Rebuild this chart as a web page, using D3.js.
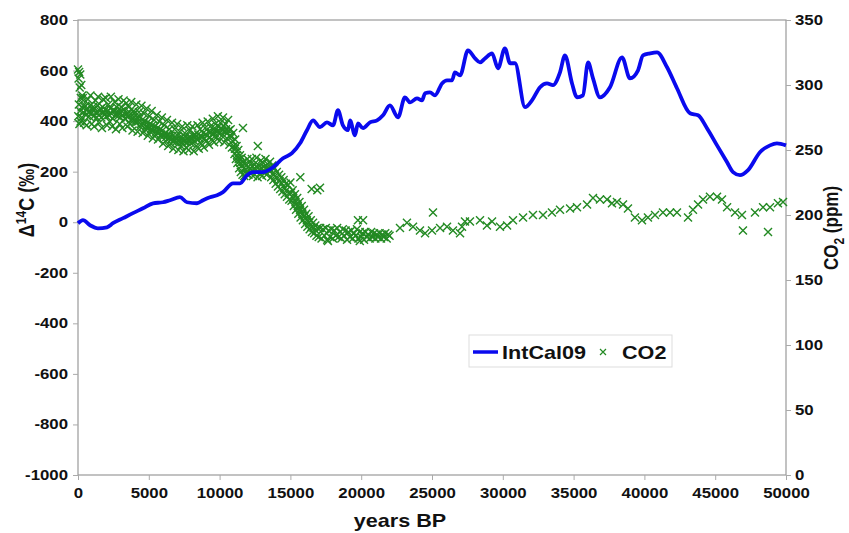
<!DOCTYPE html>
<html>
<head>
<meta charset="utf-8">
<script src="https://cdn.jsdelivr.net/npm/d3@7"></script>
<style>
  body { margin: 0; background: #fff; }
  text { font-family: "Liberation Sans", Arial, sans-serif; font-weight: bold; fill: #111; }
</style>
</head>
<body>
<div id="chart"></div>
<script>
// IntCal09 Delta14C (permil) vs years BP
var intcal = [
  [0,-4],[350,8],[850,-12],[1410,-24],[2050,-20],[2470,-4],[3180,16],[3880,36],[4590,55],[5300,75],
  [6000,79],[6500,87],[7200,99],[7700,79],[8400,75],[8830,87],[9320,99],[9820,107],[10240,119],[10950,154],
  [11440,154],[11940,186],[12360,198],[13060,198],[13770,217],[14480,253],[15110,273],[15680,312],[16170,364],[16600,403],
  [17090,376],[17580,395],[18010,383],[18360,443],[18710,383],[19070,364],[19210,403],[19560,344],[19770,391],[20130,372],
  [20620,395],[21120,403],[21540,423],[22030,462],[22600,415],[23090,494],[23450,474],[23940,490],[24290,482],[24510,510],
  [24860,514],[25210,502],[25710,549],[26060,561],[26410,561],[26620,593],[26980,581],[27540,680],[28040,648],[28390,632],
  [28740,648],[29240,668],[29660,609],[30150,688],[30510,629],[30860,629],[31570,455],[32060,482],[32630,534],[33120,549],
  [33540,542],[34040,593],[34390,660],[34890,549],[35240,494],[35660,502],[36020,632],[36370,569],[36860,494],[37570,534],
  [38420,652],[38980,569],[39550,601],[39900,660],[40400,668],[40890,672],[41600,613],[42300,530],[43220,431],[43790,423],
  [44420,372],[45130,304],[45840,237],[46260,198],[46750,186],[47320,206],[48160,277],[48870,304],[49360,312],[50000,304]
];

// CO2 (ppm) ice-core points, years BP
var co2Recent = [
  [0,312],[20,276],[40,305],[60,285],[80,310],[100,270],[120,298],[140,280],[160,308],[180,272],[200,290],[230,300],[260,275],[280,283],[300,292],
  [340,290],[430,271],[520,284],[610,269],[700,289],[790,276],[880,292],[970,270],[1060,283],[1150,268],[1240,288],[1330,275],[1420,291],[1510,271],
  [1600,282],[1690,267],[1780,289],[1870,277],[1960,290],[2050,269],[2140,285],[2230,272],[2320,291],[2410,268],[2500,281],[2590,287],[2680,266],
  [2770,279],[2860,289],[2950,270],[3040,283],[3130,267],[3220,288],[3310,274],[3400,286],[3490,268],[3580,283],[3670,270],[3760,287],[3850,265],
  [3940,280],[4030,272],[4120,285],[4210,264],[4300,279],[4390,268],[4480,284],[4570,263],[4660,278],[4750,266],[4840,282],[4930,261],[5020,276],
  [5110,264],[5200,280],[5290,259],[5380,273],[5470,262],[5560,277],[5650,258],[5740,272],[5830,261],[5920,275],[6010,255],[6100,269],[6190,257],
  [6280,273],[6370,253],[6460,266],[6550,255],[6640,271],[6730,251],[6820,266],[6910,256],[7000,270],[7090,250],[7180,264],[7270,253],[7360,268],
  [7450,249],[7540,263],[7630,252],[7720,269],[7810,250],[7900,265],[7990,255],[8080,268],[8170,249],[8260,262],[8350,253],[8440,269],[8530,251],
  [8620,266],[8710,255],[8800,271],[8890,252],[8980,267],[9070,257],[9160,272],[9250,254],[9340,268],[9430,258],[9520,274],[9610,256],[9700,270],
  [9790,260],[9880,276],[9970,257],[10060,271],[10150,261],[10240,275],[10330,256],[10420,270],[10510,259],[10600,273],[10690,254],[10780,266],
  [10870,252],[10960,263]
];
var co2RecentMid = [
  [385,279],[475,283],[565,277],[655,281],[745,279],[835,284],[925,278],[1015,281],[1105,276],[1195,282],[1285,279],[1375,284],[1465,277],[1555,280],
  [1645,275],[1735,283],[1825,279],[1915,281],[2005,276],[2095,280],[2185,277],[2275,282],[2365,278],[2455,274],[2545,280],[2635,277],[2725,283],
  [2815,276],[2905,279],[2995,275],[3085,280],[3175,277],[3265,281],[3355,274],[3445,278],[3535,276],[3625,279],[3715,273],[3805,277],[3895,274],
  [3985,278],[4075,271],[4165,275],[4255,272],[4345,276],[4435,270],[4525,273],[4615,270],[4705,272],[4795,268],[4885,271],[4975,267],[5065,270],
  [5155,266],[5245,269],[5335,265],[5425,268],[5515,264],[5605,267],[5695,263],[5785,266],[5875,262],[5965,265],[6055,261],[6145,263],[6235,260],
  [6325,262],[6415,259],[6505,261],[6595,258],[6685,261],[6775,257],[6865,260],[6955,258],[7045,261],[7135,257],[7225,259],[7315,256],[7405,259],
  [7495,257],[7585,260],[7675,256],[7765,259],[7855,257],[7945,260],[8035,258],[8125,261],[8215,257],[8305,260],[8395,258],[8485,262],[8575,259],
  [8665,261],[8755,260],[8845,263],[8935,259],[9025,262],[9115,261],[9205,264],[9295,260],[9385,264],[9475,262],[9565,266],[9655,263],[9745,266],
  [9835,264],[9925,268],[10015,264],[10105,267],[10195,265],[10285,268],[10375,264],[10465,266],[10555,263],[10645,265],[10735,261],[10825,260],
  [10915,257],[11005,253]
];
var co2Glacial = [
  [11050,247],[11100,258],[11150,243],[11200,253],[11260,240],[11320,250],[11380,236],[11440,246],[11500,233],[11560,244],[11620,231],[11650,267],
  [11680,241],[11740,230],[11800,239],[11880,232],[11960,243],[12040,231],[12120,241],[12200,233],[12280,243],[12360,230],[12440,239],[12520,234],
  [12600,244],[12680,229],[12700,253],[12760,238],[12840,232],[12920,242],[13000,230],[13080,240],[13160,233],[13240,243],[13320,231],[13400,239],
  [13480,234],[13560,241],[13640,229],[13720,238],[13800,227],[13880,236],[13960,224],[14040,233],[14120,222],[14200,231],[14280,220],[14360,229],
  [14440,218],[14520,227],[14600,216],[14680,224],[14760,214],[14840,223],[14920,212],[15000,225],[15080,211],[15160,219],[15240,207],[15320,216],
  [15400,204],[15480,213],[15560,201],[15640,210],[15700,229],[15720,198],[15800,207],[15880,196],[15960,204],[16040,193],[16120,201],[16200,191],
  [16280,199],[16360,189],[16440,196],[16500,220],[16520,187],[16600,194],[16680,186],[16760,192],[16840,184],[16900,219],[16920,190],[17000,183],
  [17090,221],[17100,190],[17200,182],[17300,189],[17400,184],[17500,190],[17600,181],[17650,180],[17700,188],[17800,183],[17900,189],[18000,182],
  [18100,188],[18200,184],[18300,190],[18400,183],[18500,187],[18600,182],[18700,189],[18800,184],[18900,188],[19000,181],[19100,187],[19200,183],
  [19300,188],[19400,182],[19500,186],[19600,184],[19700,189],[19770,196],[19800,182],[19900,180],[19900,187],[20000,183],[20100,186],[20130,196],
  [20200,181],[20300,187],[20400,183],[20500,185],[20600,182],[20700,187],[20800,183],[20900,186],[21000,182],[21100,185],[21200,183],[21300,186],
  [21400,182],[21500,185],[21600,183],[21700,186],[21800,182],[21900,185],[22000,184]
];
var co2GlacialMid = [
  [11080,251],[11230,246],[11350,243],[11470,240],[11590,238],[11710,236],[11840,235],[12000,237],[12160,236],[12320,237],[12480,236],[12640,237],
  [12800,235],[12960,236],[13120,237],[13280,236],[13440,236],[13600,235],[13760,232],[13920,230],[14080,228],[14240,226],[14400,224],[14560,221],
  [14720,219],[14880,217],[15040,217],[15200,213],[15360,210],[15520,207],[15680,204],[15840,201],[16000,199],[16160,196],[16320,194],[16480,191],
  [16640,190],[16800,188]
];
var co2Early = [
  [22740,190],[23230,194],[23660,191],[24150,188],[24510,186],[25070,202],[25000,188],[25570,190],[26060,191],[26480,188],[26980,186],[27120,191],
  [27330,195],[27680,195],[28390,196],[28880,192],[29240,195],[29800,191],[30300,192],[30720,196],[31430,198],[32130,200],[32840,200],[33470,202],
  [34040,204],[34750,205],[35240,206],[35950,208],[36370,213],[36860,212],[37360,212],[37710,209],[38060,210],[38490,208],[38840,205],[39330,198],
  [39830,196],[40250,198],[40750,200],[41310,202],[41810,202],[42300,202],[43080,198],[43430,204],[43790,208],[44140,212],[44630,214],[45130,214],
  [45480,212],[45840,206],[46400,202],[46890,200],[46960,188],[47810,202],[48380,206],[48730,187],[48870,206],[49430,209],[49790,210]
];
var co2 = co2Recent.concat(co2RecentMid, co2Glacial, co2GlacialMid, co2Early);

var xTicks = [0,5000,10000,15000,20000,25000,30000,35000,40000,45000,50000];
var leftTicks = [-1000,-800,-600,-400,-200,0,200,400,600,800];
var rightTicks = [0,50,100,150,200,250,300,350];

var W = 849, H = 533;
var margin = {top: 20, right: 63, bottom: 58, left: 78},
    width = W - margin.left - margin.right,
    height = H - margin.top - margin.bottom;
var stretch = 1.2; // the source picture is widened, so is the type

var x = d3.scaleLinear().domain([0, 50000]).range([0, width]);
var yL = d3.scaleLinear().domain([-1000, 800]).range([height, 0]);
var yR = d3.scaleLinear().domain([0, 350]).range([height, 0]);

var svg = d3.select("#chart").append("svg")
    .attr("width", W)
    .attr("height", H);

var g = svg.append("g")
    .attr("transform", "translate(" + margin.left + "," + margin.top + ")");

// frame of the plot area
g.append("rect")
    .attr("width", width)
    .attr("height", height)
    .attr("fill", "none")
    .attr("stroke", "#9a9a9a")
    .attr("stroke-width", 1.2);

function styleAxis(sel) {
  sel.select(".domain").remove();
  sel.selectAll(".tick line").attr("stroke", "#aaa");
  sel.selectAll(".tick text")
      .style("font-size", "14px")
      .attr("fill", "#111");
}

var fmt = function(d) { return String(d); }; // plain hyphen minus, as in the source

var xAxis = g.append("g")
    .attr("transform", "translate(0," + height + ")")
    .call(d3.axisBottom(x).tickValues(xTicks).tickSize(5).tickPadding(8).tickFormat(fmt))
    .call(styleAxis);
xAxis.selectAll(".tick text").attr("transform", "scale(" + stretch + ",1)");

var lAxis = g.append("g")
    .call(d3.axisLeft(yL).tickValues(leftTicks).tickSize(5).tickFormat(fmt))
    .call(styleAxis);
lAxis.selectAll(".tick text")
    .attr("x", -10 / stretch)
    .attr("transform", "scale(" + stretch + ",1)");

var rAxis = g.append("g")
    .attr("transform", "translate(" + width + ",0)")
    .call(d3.axisRight(yR).tickValues(rightTicks).tickSize(5).tickFormat(fmt))
    .call(styleAxis);
rAxis.selectAll(".tick text")
    .attr("x", 9 / stretch)
    .attr("transform", "scale(" + stretch + ",1)");

// CO2 crosses
var cross = "M-4,-4L4,4M-4,4L4,-4";
g.append("g")
  .selectAll("path")
  .data(co2)
  .enter()
  .append("path")
    .attr("d", cross)
    .attr("transform", function(d) { return "translate(" + x(d[0]) + "," + yR(d[1]) + ")"; })
    .attr("fill", "none")
    .attr("stroke", "#238a23")
    .attr("stroke-width", 1.4);

// IntCal09 line
var line = d3.line()
    .x(function(d) { return x(d[0]); })
    .y(function(d) { return yL(d[1]); })
    .curve(d3.curveMonotoneX);

g.append("path")
    .datum(intcal)
    .attr("d", line)
    .attr("fill", "none")
    .attr("stroke", "#0a0aee")
    .attr("stroke-width", 3.8)
    .attr("stroke-linejoin", "round");

// axis titles
svg.append("text")
    .attr("transform", "translate(400,527) scale(" + stretch + ",1)")
    .attr("text-anchor", "middle")
    .style("font-size", "18px")
    .text("years BP");

var lt = svg.append("text")
    .attr("transform", "translate(34,200) rotate(-90) scale(1," + stretch + ")")
    .attr("text-anchor", "middle")
    .style("font-size", "18px");
lt.append("tspan").text("Δ");
lt.append("tspan").attr("dy", -7).style("font-size", "12px").text("14");
lt.append("tspan").attr("dy", 7).text("C (‰)");

var rt = svg.append("text")
    .attr("transform", "translate(838,228) rotate(-90) scale(1," + stretch + ")")
    .attr("text-anchor", "middle")
    .style("font-size", "17px");
rt.append("tspan").text("CO");
rt.append("tspan").attr("dy", 5).style("font-size", "12px").text("2");
rt.append("tspan").attr("dy", -5).text(" (ppm)");

// legend
var leg = svg.append("g").attr("transform", "translate(469,335)");
leg.append("rect")
    .attr("width", 203)
    .attr("height", 32)
    .attr("fill", "#fff")
    .attr("stroke", "#ddd");
leg.append("line")
    .attr("x1", 4).attr("x2", 29)
    .attr("y1", 17).attr("y2", 17)
    .attr("stroke", "#0a0aee")
    .attr("stroke-width", 3.5);
leg.append("text")
    .attr("transform", "translate(33,24) scale(" + stretch + ",1)")
    .style("font-size", "18px")
    .text("IntCal09");
leg.append("path")
    .attr("d", "M-3,-3L3,3M-3,3L3,-3")
    .attr("transform", "translate(134,17)")
    .attr("stroke", "#238a23")
    .attr("stroke-width", 1.2);
leg.append("text")
    .attr("transform", "translate(153,24) scale(" + stretch + ",1)")
    .style("font-size", "18px")
    .text("CO2");
</script>
</body>
</html>
